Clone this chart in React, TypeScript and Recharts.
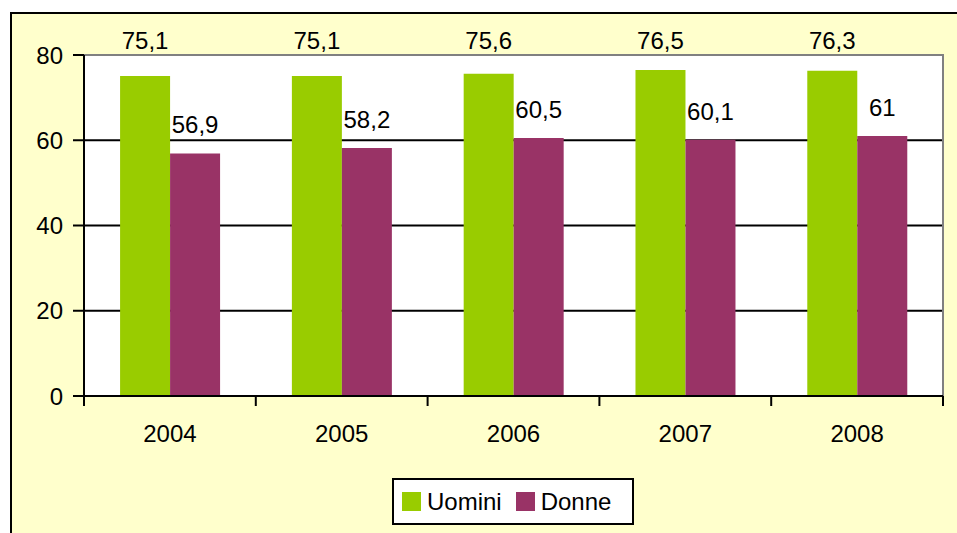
import React from 'react';
import { BarChart, Bar, XAxis, YAxis, CartesianGrid, ReferenceArea, LabelList } from 'recharts';

const categories = ['2004', '2005', '2006', '2007', '2008'];
const uomini = [75.1, 75.1, 75.6, 76.5, 76.3];
const donne = [56.9, 58.2, 60.5, 60.1, 61];
const yTicks = [0, 20, 40, 60, 80];
const seriesNames = ['Uomini', 'Donne'];
const seriesColors = ['#99CC00', '#993366'];

const data = categories.map((c, i) => ({ year: c, uomini: uomini[i], donne: donne[i] }));

const FONT = '"Liberation Sans", Arial, sans-serif';
const FS = 24;
const LABEL_CEIL = 49;

const fmt = (v: any) => String(v).replace('.', ',');

const BarLabel = (props: any) => {
  const { x, y, width, value } = props;
  const raw = Number(y) - 20;
  const by = raw < LABEL_CEIL + 15 ? LABEL_CEIL : raw;
  return (
    <text x={Number(x) + Number(width) / 2} y={by} textAnchor="middle" fontFamily={FONT} fontSize={FS} fill="#000">
      {fmt(value)}
    </text>
  );
};

const XTick = (props: any) => {
  const { x, y, payload, index, visibleTicksCount, width } = props;
  const half = Number(width) / Number(visibleTicksCount) / 2;
  return (
    <g>
      <line x1={x - half} x2={x - half} y1={y} y2={y + 10} stroke="#000" strokeWidth={2} />
      {index === visibleTicksCount - 1 && (
        <line x1={x + half} x2={x + half} y1={y} y2={y + 10} stroke="#000" strokeWidth={2} />
      )}
      <text x={x} y={y + 46} textAnchor="middle" fontFamily={FONT} fontSize={FS} fill="#000">
        {payload.value}
      </text>
    </g>
  );
};

export default function App() {
  return (
    <div style={{ position: 'absolute', left: 0, top: 0, width: 957, height: 533, overflow: 'hidden', background: '#fff' }}>
      <div
        style={{
          position: 'absolute',
          left: 10,
          top: 12,
          width: 970,
          height: 550,
          border: '2px solid #000',
          background: '#FFFFCC',
          boxSizing: 'border-box',
        }}
      />
      <div style={{ position: 'absolute', left: 0, top: 0 }}>
        <BarChart
          width={957}
          height={533}
          data={data}
          margin={{ top: 55, right: 14, bottom: 87, left: 0 }}
          barCategoryGap="21%"
          barGap={0}
        >
          <CartesianGrid vertical={false} horizontalValues={[20, 40, 60]} stroke="#000" strokeWidth={2} fill="#fff" fillOpacity={1} />
          <ReferenceArea y1={0} y2={80} fill="none" stroke="#808080" strokeWidth={2} ifOverflow="visible" />
          <XAxis
            dataKey="year"
            height={50}
            tickLine={false}
            tickSize={0}
            tickMargin={0}
            axisLine={{ stroke: '#000', strokeWidth: 2 }}
            tick={<XTick />}
            interval={0}
          />
          <YAxis
            width={84}
            domain={[0, 80]}
            ticks={yTicks}
            tickSize={11}
            tickMargin={10}
            axisLine={{ stroke: '#000', strokeWidth: 2 }}
            tickLine={{ stroke: '#000', strokeWidth: 2 }}
            tick={{ fontFamily: FONT, fontSize: FS, fill: '#000' }}
            interval={0}
          />
          <Bar dataKey="uomini" name={seriesNames[0]} fill={seriesColors[0]} isAnimationActive={false}>
            <LabelList dataKey="uomini" content={<BarLabel />} />
          </Bar>
          <Bar dataKey="donne" name={seriesNames[1]} fill={seriesColors[1]} isAnimationActive={false}>
            <LabelList dataKey="donne" content={<BarLabel />} />
          </Bar>
        </BarChart>
      </div>
      <div
        style={{
          position: 'absolute',
          left: 392,
          top: 478,
          width: 242,
          height: 47,
          border: '2px solid #000',
          background: '#fff',
          boxSizing: 'border-box',
          display: 'flex',
          alignItems: 'center',
          paddingLeft: 8,
          fontFamily: FONT,
          fontSize: FS,
          color: '#000',
        }}
      >
        {seriesNames.map((n, i) => (
          <div key={n} style={{ display: 'flex', alignItems: 'center', marginRight: i === 0 ? 14 : 0 }}>
            <div style={{ width: 19, height: 19, background: seriesColors[i], marginRight: 6 }} />
            <span style={{ lineHeight: '24px' }}>{n}</span>
          </div>
        ))}
      </div>
    </div>
  );
}
